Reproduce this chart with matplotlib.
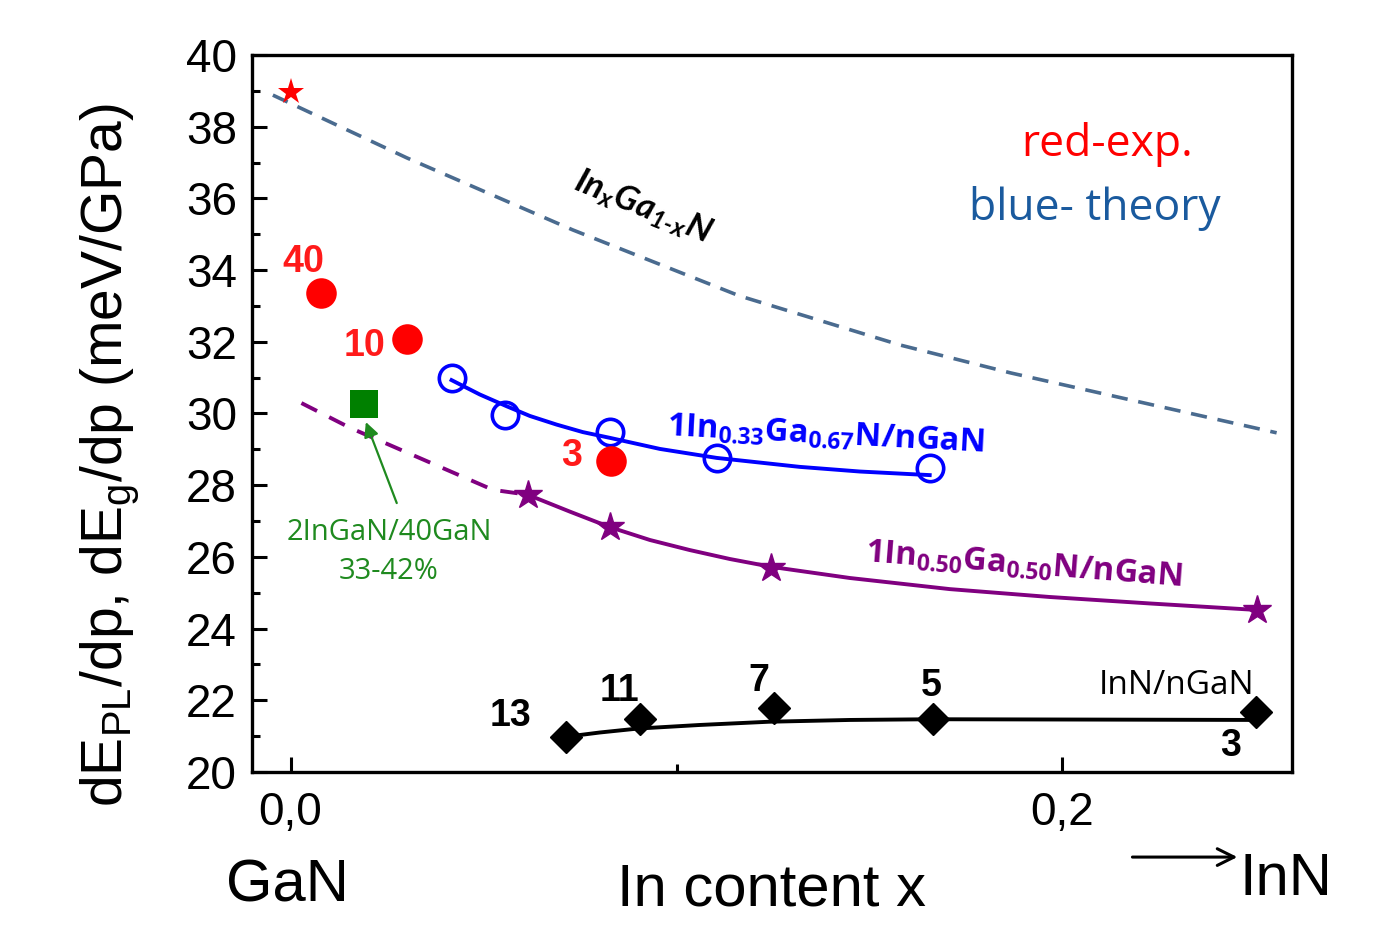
import matplotlib
matplotlib.use('Agg')
import matplotlib.pyplot as plt

plt.rcParams['mathtext.fontset'] = 'custom'
plt.rcParams['mathtext.rm'] = 'Liberation Sans'
plt.rcParams['mathtext.it'] = 'Liberation Sans:italic'
plt.rcParams['mathtext.bf'] = 'Open Sans:bold'
plt.rcParams['mathtext.bfit'] = 'Lato:bold:italic'
plt.rcParams['font.family'] = ['Liberation Sans', 'DejaVu Sans']

# ---------------- data ----------------
# InxGa1-xN theory (dashed)
theory_x = [-0.0046, 0.0301, 0.0731, 0.1163, 0.1579, 0.1866, 0.2555]
theory_y = [38.88, 37.13, 35.12, 33.28, 31.91, 31.13, 29.46]

# red experiment points
gan_star_x = [0.0]
gan_star_y = [38.98]
exp_x = [0.0078, 0.0301, 0.0830]
exp_y = [33.36, 32.08, 28.68]
exp_labels = ['40', '10', '3']

# 1In0.33Ga0.67N/nGaN (blue open circles) + fit
blue_x = [0.0417, 0.0555, 0.0827, 0.1104, 0.1656]
blue_y = [30.98, 29.96, 29.49, 28.75, 28.47]
blue_fit_x = [0.0417, 0.0490, 0.0560, 0.0620, 0.0689, 0.0757, 0.0827, 0.0957, 0.1104, 0.1319, 0.1475, 0.1656]
blue_fit_y = [30.93, 30.53, 30.20, 29.93, 29.69, 29.48, 29.32, 29.01, 28.76, 28.51, 28.38, 28.28]

# 1In0.50Ga0.50N/nGaN (purple stars) + fit
purple_x = [0.0616, 0.0827, 0.1246, 0.2504]
purple_y = [27.73, 26.84, 25.68, 24.52]
purple_fit_x = [0.0615, 0.0724, 0.0827, 0.0931, 0.1034, 0.1138, 0.1246, 0.1449, 0.1708, 0.1967, 0.2226, 0.2501]
purple_fit_y = [27.73, 27.26, 26.83, 26.47, 26.19, 25.94, 25.72, 25.41, 25.10, 24.88, 24.70, 24.52]
purple_ext_x = [0.0028, 0.0154, 0.0355, 0.0524, 0.0616]
purple_ext_y = [30.29, 29.60, 28.66, 27.87, 27.73]

# 2InGaN/40GaN (green square)
green_x = [0.0190]
green_y = [30.26]

# InN/nGaN (black diamonds) + fit
black_x = [0.0713, 0.0906, 0.1252, 0.1664, 0.2501]
black_y = [20.98, 21.48, 21.78, 21.47, 21.67]
black_labels = ['13', '11', '7', '5', '3']
black_fit_x = [0.0713, 0.0801, 0.0900, 0.1060, 0.1239, 0.1449, 0.1664, 0.2097, 0.2501]
black_fit_y = [20.98, 21.10, 21.21, 21.31, 21.40, 21.45, 21.47, 21.46, 21.45]

xtick_vals = [0.0, 0.2]
xtick_labels = ['0,0', '0,2']
ytick_vals = [20, 22, 24, 26, 28, 30, 32, 34, 36, 38, 40]

# ---------------- figure ----------------
fig = plt.figure(figsize=(13.81, 9.46), dpi=100)
ax = fig.add_axes([0.1825, 0.184, 0.7531, 0.7579])

RED = '#FF0000'
BLUE = '#0000FF'
PURPLE = '#800080'
GREEN = '#008000'
SLATE = '#4a6b8f'

ax.plot(theory_x, theory_y, color=SLATE, lw=2.6, dashes=[4.5, 3], zorder=2)

ax.plot(blue_fit_x, blue_fit_y, color=BLUE, lw=2.8, zorder=3)
ax.plot(blue_x, blue_y, ls='none', marker='o', ms=19, mfc='none', mec=BLUE, mew=2.6, zorder=4)

ax.plot(purple_ext_x, purple_ext_y, color=PURPLE, lw=2.8, dashes=[4.5, 3.5], zorder=3)
ax.plot(purple_fit_x, purple_fit_y, color=PURPLE, lw=2.8, zorder=3)
ax.plot(purple_x, purple_y, ls='none', marker='*', ms=21, mfc=PURPLE, mec=PURPLE, mew=1, zorder=4)

ax.plot(black_fit_x, black_fit_y, color='black', lw=2.8, zorder=3)
ax.plot(black_x, black_y, ls='none', marker='D', ms=16, mfc='black', mec='black', zorder=4)

ax.plot(exp_x, exp_y, ls='none', marker='o', ms=22, mfc=RED, mec=RED, mew=0, zorder=5)
ax.plot(gan_star_x, gan_star_y, ls='none', marker='*', ms=20, mfc=RED, mec=RED, mew=0, zorder=5)
ax.plot(green_x, green_y, ls='none', marker='s', ms=20, mfc=GREEN, mec=GREEN, mew=0, zorder=5)

# axes styling
ax.set_xlim(-0.01, 0.2595)
ax.set_ylim(20, 40)
ax.set_xticks(xtick_vals)
ax.set_xticklabels(xtick_labels)
ax.set_xticks([0.1], minor=True)
ax.set_yticks(ytick_vals)
ax.set_yticks([21, 23, 25, 27, 29, 31, 33, 35, 37, 39], minor=True)
ax.tick_params(which='both', direction='in', width=2.2, top=False, right=False)
ax.tick_params(which='major', length=11, labelsize=33, pad=11)
ax.tick_params(which='minor', length=5.5)
ax.tick_params(axis='x', which='major', pad=14)
for s in ax.spines.values():
    s.set_linewidth(2.4)

# y label
ax.text(-0.137, 0.442, r'dE$_{\mathrm{PL}}$/dp, dE$_{\mathrm{g}}$/dp (meV/GPa)',
        transform=ax.transAxes, rotation=90, ha='center', va='center', fontsize=41)

# bottom texts
fig.text(0.2078, 0.0634, 'GaN', ha='center', va='center', fontsize=43)
fig.text(0.559, 0.0592, 'In content x', ha='center', va='center', fontsize=43)
fig.text(0.9312, 0.0698, 'InN', ha='center', va='center', fontsize=43)
ax.annotate('', xy=(0.898, 0.094), xytext=(0.818, 0.094), xycoords='figure fraction',
            textcoords='figure fraction', annotation_clip=False,
            arrowprops=dict(arrowstyle='->', color='black', lw=2.2, mutation_scale=30))

# red labels
exp_label_pos = [(0.0032, 34.23), (0.0192, 31.88), (0.0729, 28.81)]
for (tx, ty), lab in zip(exp_label_pos, exp_labels):
    ax.text(tx, ty, lab, color='#FF1A1A', fontsize=27, fontweight='bold', ha='center', va='center')

# black labels
black_label_pos = [(0.0571, 21.56), (0.0853, 22.26), (0.1213, 22.54), (0.1661, 22.40), (0.2436, 20.73)]
for (tx, ty), lab in zip(black_label_pos, black_labels):
    ax.text(tx, ty, lab, color='black', fontsize=27, fontweight='bold', ha='center', va='center')

ax.text(0.2296, 22.40, 'InN/nGaN', color='black', fontsize=24, family='Open Sans',
        ha='center', va='center')

# curve labels
ax.text(0.0913, 35.76, 'In$_{\\mathbfit{x}}$Ga$_{\\mathbfit{1\u2010x}}$N', color='black', fontsize=25,
        family='Lato', fontweight='bold', fontstyle='italic', rotation=-22,
        ha='center', va='center', rotation_mode='anchor')
ax.text(0.1387, 29.40, r'1In$_{\mathbf{0.33}}$Ga$_{\mathbf{0.67}}$N/nGaN', color=BLUE, fontsize=23.5,
        family='Open Sans', fontweight='bold', rotation=-3, ha='center', va='center',
        rotation_mode='anchor')
ax.text(0.1900, 25.75, r'1In$_{\mathbf{0.50}}$Ga$_{\mathbf{0.50}}$N/nGaN', color=PURPLE, fontsize=23.5,
        family='Open Sans', fontweight='bold', rotation=-4.5, ha='center', va='center',
        rotation_mode='anchor')

# green annotation
ax.text(0.0255, 26.69, '2InGaN/40GaN', color='#1f8a1f', fontsize=21, family='Open Sans',
        ha='center', va='center')
ax.text(0.0255, 25.58, '33-42%', color='#1f8a1f', fontsize=21, family='Open Sans',
        ha='center', va='center')
ax.annotate('', xy=(0.0195, 29.76), xytext=(0.0275, 27.50),
            arrowprops=dict(arrowstyle='-|>', color='#1f8a1f', lw=1.6, mutation_scale=22,
                            shrinkA=0, shrinkB=0))

# legend-like text
ax.text(0.2115, 37.49, 'red-exp.', color=RED, fontsize=32, family='Open Sans',
        ha='center', va='center')
ax.text(0.2084, 35.73, 'blue- theory', color='#1a5a9e', fontsize=32, family='Open Sans',
        ha='center', va='center')

fig.savefig('out.png', dpi=100)
